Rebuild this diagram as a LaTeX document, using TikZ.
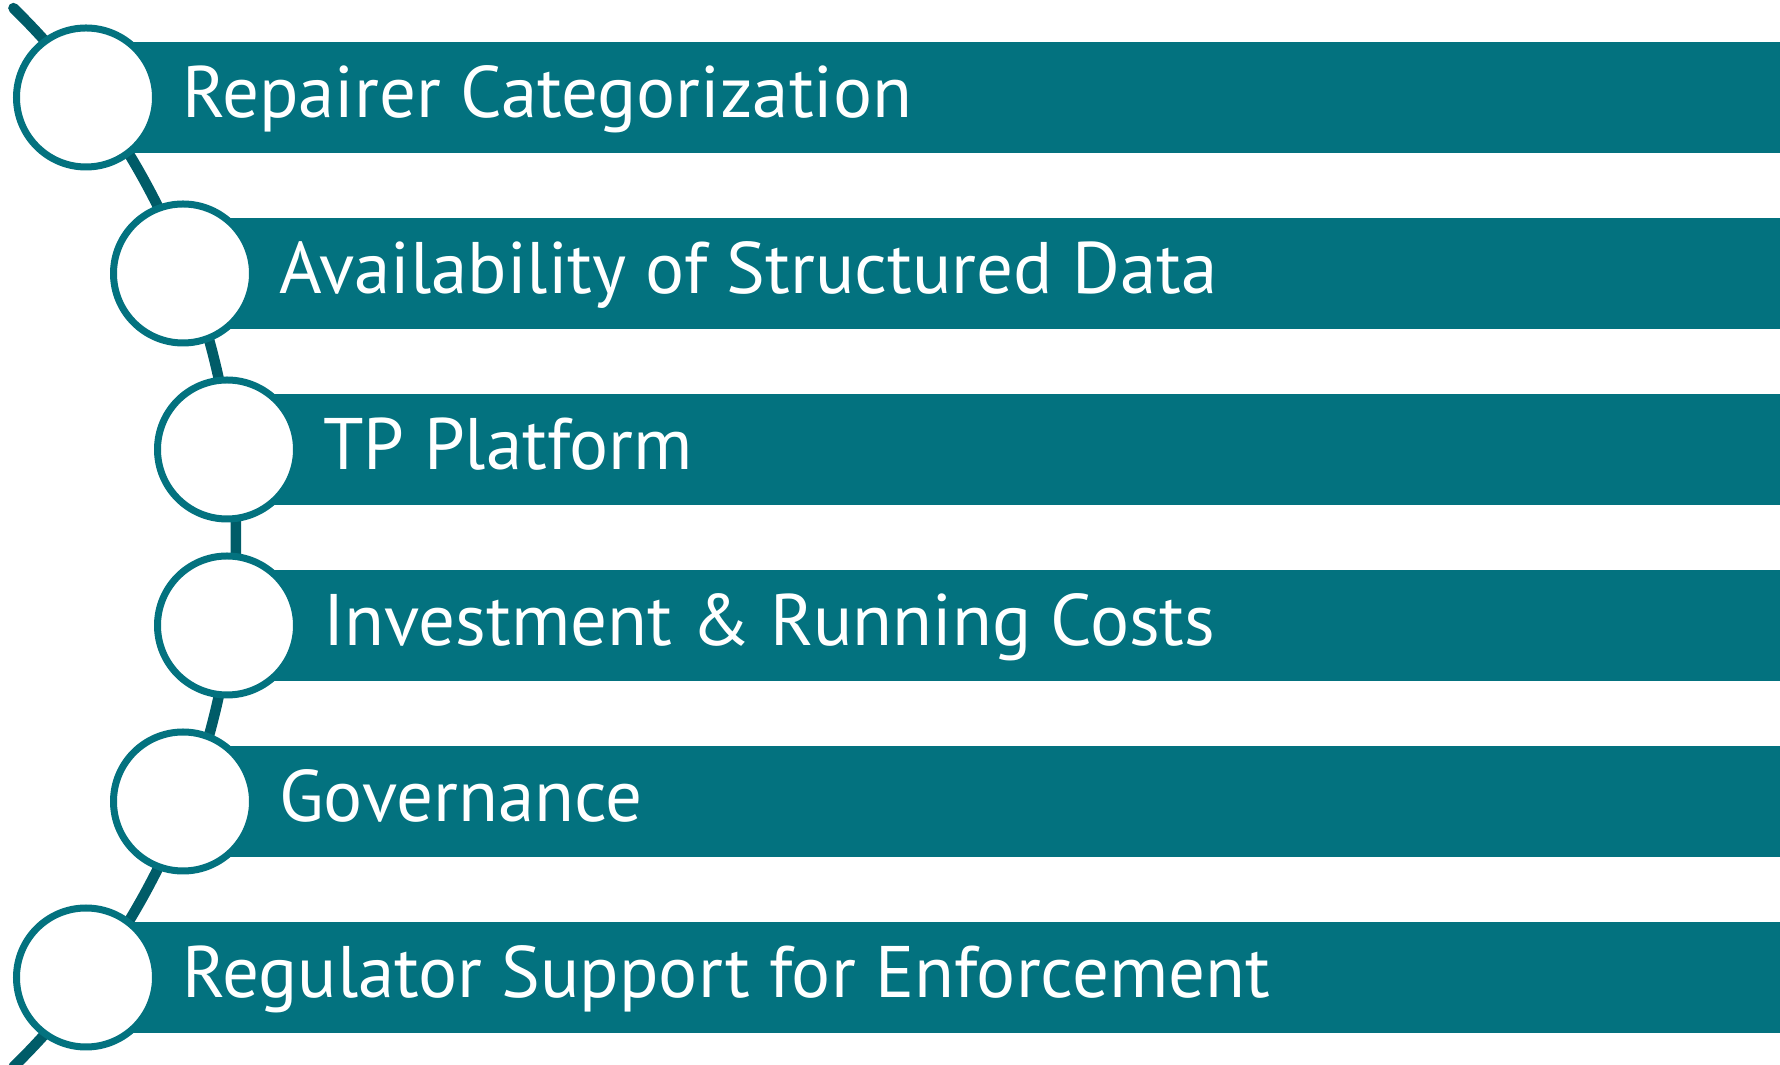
\documentclass[tikz,border=0pt]{standalone}
\usepackage{fontspec}
\setmainfont{PT Sans}
\definecolor{barteal}{RGB}{3,114,127}
\definecolor{linkteal}{RGB}{0,92,104}
\begin{document}
\begin{tikzpicture}[x=1pt,y=1pt,
  bar/.style={rectangle, fill=barteal, draw=none, inner sep=0pt, minimum width=1700pt, minimum height=111pt, anchor=west},
  dot/.style={circle, draw=barteal, line width=7pt, fill=white, inner sep=0pt, minimum size=139pt},
  lbl/.style={anchor=base west, inner sep=0pt, text=white, font=\fontsize{73}{80}\selectfont},
  link/.style={draw=linkteal, line width=10.5pt, line cap=round}]
\useasboundingbox (0,0) rectangle (1780,1065);
\coordinate (arcC) at (-505,527.5);
\coordinate (arcTop) at ([shift={(45.6:741)}]arcC);
\draw[link] (arcTop) arc[start angle=45.6, end angle=-45.6, radius=741];
% bars
\node[bar] (b1) at (86,967.5) {};
\node[bar] (b2) at (183,791.5) {};
\node[bar] (b3) at (227,615.5) {};
\node[bar] (b4) at (227,439.5) {};
\node[bar] (b5) at (183,263.5) {};
\node[bar] (b6) at (86,87.5) {};
% circles
\node[dot] (c1) at (86,967.5) {};
\node[dot] (c2) at (183,791.5) {};
\node[dot] (c3) at (227,615.5) {};
\node[dot] (c4) at (227,439.5) {};
\node[dot] (c5) at (183,263.5) {};
\node[dot] (c6) at (86,87.5) {};
% labels
\node[lbl] (t1) at (182,947) {Repairer Categorization};
\node[lbl] (t2) at (279,771) {Availability of Structured Data};
\node[lbl] (t3) at (323,595) {TP Platform};
\node[lbl] (t4) at (323,419) {Investment \& Running Costs};
\node[lbl] (t5) at (279,243) {Governance};
\node[lbl] (t6) at (182,67) {Regulator Support for Enforcement};
\end{tikzpicture}
\end{document}
